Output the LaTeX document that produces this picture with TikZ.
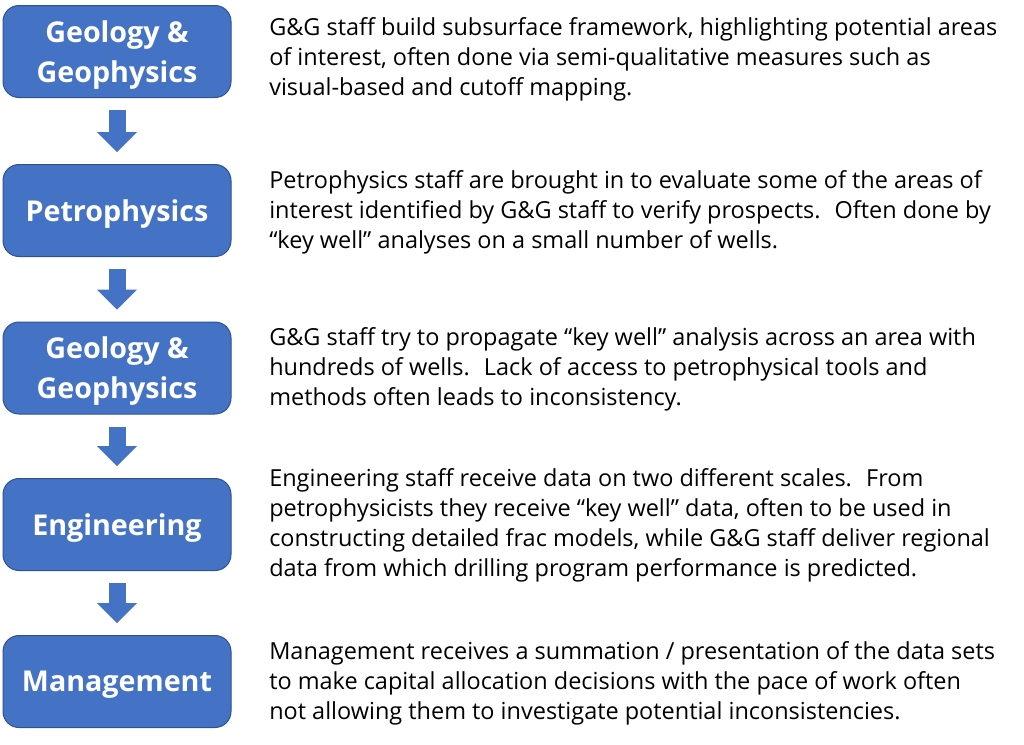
\documentclass[tikz,border=0pt]{standalone}
\usepackage{fontspec}
\setmainfont{Open Sans}
\newfontfamily\titlefont{Open Sans}
\usetikzlibrary{arrows.meta, positioning}
\definecolor{boxblue}{HTML}{4472C4}
\definecolor{boxedge}{HTML}{2F528F}

\begin{document}
\begin{tikzpicture}[x=0.75pt, y=-0.75pt,
  stage/.style={draw=boxedge, line width=0.75pt, fill=boxblue, rounded corners=12pt,
    minimum width=171pt, minimum height=69pt, inner sep=0pt, text=white, align=center,
    text depth=0pt, font=\titlefont\bfseries\fontsize{21.5}{30}\selectfont},
  note/.style={anchor=north west, inner sep=0pt, align=left,
    font=\fontsize{17.6}{22.5}\selectfont},
  flow/.style={boxblue, line width=12.75pt,
    -{Triangle[length=15pt, width=30pt, line width=0pt]},
    shorten <=9pt, shorten >=9pt}]
\useasboundingbox (0,0) rectangle (1024,744);

\node[stage] (gg1) at (117,51.5) {Geology \&\\Geophysics};
\node[stage] (petro) at (117,210.5) {Petrophysics};
\node[stage] (gg2) at (117,368) {Geology \&\\Geophysics};
\node[stage] (eng) at (117,524.5) {Engineering};
\node[stage] (mgmt) at (117,681.5) {Management};

\draw[flow] (gg1) -- (petro);
\draw[flow] (petro) -- (gg2);
\draw[flow] (gg2) -- (eng);
\draw[flow] (eng) -- (mgmt);

\node[note] (gg1text) at (269,14) {\strut G\&G staff build subsurface framework, highlighting potential areas\\
  of interest, often done via semi-qualitative measures such as\\
  visual-based and cutoff mapping.};
\node[note] (petrotext) at (269,167) {\strut Petrophysics staff are brought in to evaluate some of the areas of\\
  interest identified by G\&G staff to verify prospects.~ Often done by\\
  “key well” analyses on a small number of wells.};
\node[note] (gg2text) at (269,324) {\strut G\&G staff try to propagate “key well” analysis across an area with\\
  hundreds of wells.~ Lack of access to petrophysical tools and\\
  methods often leads to inconsistency.};
\node[note] (engtext) at (269,465) {\strut Engineering staff receive data on two different scales.~ From\\
  petrophysicists they receive “key well” data, often to be used in\\
  constructing detailed frac models, while G\&G staff deliver regional\\
  data from which drilling program performance is predicted.};
\node[note] (mgmttext) at (269,638) {\strut Management receives a summation / presentation of the data sets\\
  to make capital allocation decisions with the pace of work often\\
  not allowing them to investigate potential inconsistencies.};
\end{tikzpicture}
\end{document}
